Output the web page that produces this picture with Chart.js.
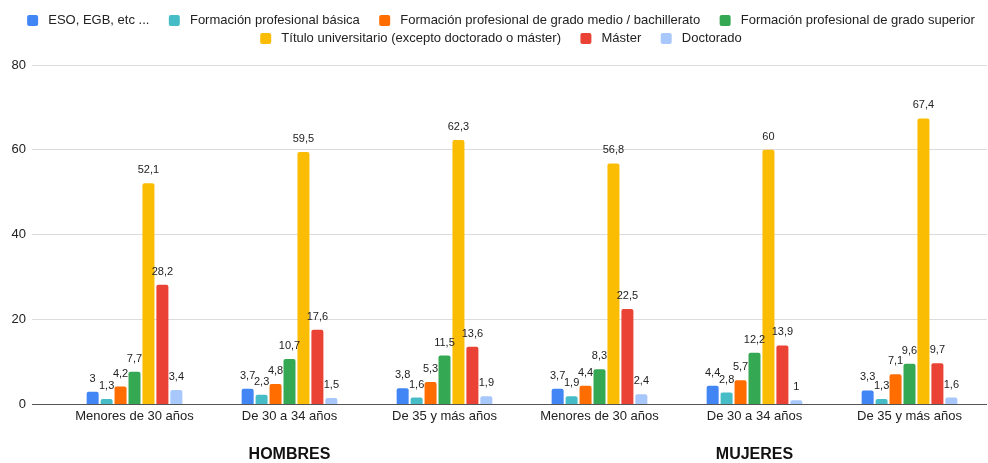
<!DOCTYPE html>
<html>
<head>
<meta charset="utf-8">
<script src="https://cdn.jsdelivr.net/npm/chart.js@4"></script>
<style>
  html, body { margin: 0; padding: 0; background: #fff; }
  #wrap { width: 988px; height: 463px; position: relative; }
</style>
</head>
<body>
<div id="wrap"><canvas id="chart"></canvas></div>
<script>
// categories and series
const categories = ['Menores de 30 años', 'De 30 a 34 años', 'De 35 y más años',
                    'Menores de 30 años', 'De 30 a 34 años', 'De 35 y más años'];
const groupLabels = ['HOMBRES', 'MUJERES'];
const groupCenterIndex = [1, 4];

const seriesNames = [
    'ESO, EGB, etc ...',
    'Formación profesional básica',
    'Formación profesional de grado medio / bachillerato',
    'Formación profesional de grado superior',
    'Título universitario (excepto doctorado o máster)',
    'Máster',
    'Doctorado'
];
const eso        = [3, 3.7, 3.8, 3.7, 4.4, 3.3];
const fpBasica   = [1.3, 2.3, 1.6, 1.9, 2.8, 1.3];
const fpMedio    = [4.2, 4.8, 5.3, 4.4, 5.7, 7.1];
const fpSuperior = [7.7, 10.7, 11.5, 8.3, 12.2, 9.6];
const titulo     = [52.1, 59.5, 62.3, 56.8, 60, 67.4];
const master     = [28.2, 17.6, 13.6, 22.5, 13.9, 9.7];
const doctorado  = [3.4, 1.5, 1.9, 2.4, 1, 1.6];

const yTicks = [0, 20, 40, 60, 80];

const colors = ['#4285f4', '#46bdc6', '#ff6d01', '#34a853', '#fbbc04', '#ea4335', '#a8c7fa'];
const allSeries = [eso, fpBasica, fpMedio, fpSuperior, titulo, master, doctorado];
// legend items that end a row (no trailing gap)
const rowEnds = [3, 6];

const FONT = '"Liberation Sans", Arial, Helvetica, sans-serif';

// value labels above each bar, comma decimals
const barLabels = {
    id: 'barLabels',
    afterDatasetsDraw(chart) {
        const ctx = chart.ctx;
        ctx.save();
        ctx.font = '11px ' + FONT;
        ctx.fillStyle = '#222';
        ctx.textAlign = 'center';
        ctx.textBaseline = 'alphabetic';
        chart.data.datasets.forEach((ds, i) => {
            const meta = chart.getDatasetMeta(i);
            meta.data.forEach((bar, j) => {
                const txt = String(ds.data[j]).replace('.', ',');
                ctx.fillText(txt, bar.x, bar.y - 10);
            });
        });
        ctx.restore();
    }
};

// HOMBRES / MUJERES under the axis
const groupTitles = {
    id: 'groupTitles',
    afterDraw(chart) {
        const ctx = chart.ctx;
        const x = chart.scales.x;
        ctx.save();
        ctx.font = 'bold 16px ' + FONT;
        ctx.fillStyle = '#111';
        ctx.textAlign = 'center';
        ctx.textBaseline = 'middle';
        groupLabels.forEach((g, k) => {
            ctx.fillText(g, x.getPixelForValue(groupCenterIndex[k]), 455);
        });
        ctx.restore();
    }
};

// extra room between legend and plot area, legend nudged a little right
const legendSpacer = {
    id: 'legendSpacer',
    beforeLayout(chart) {
        const lg = chart.legend;
        if (lg && !lg._spaced) {
            const fit = lg.fit.bind(lg);
            lg.fit = function () { fit(); this.height += 10; };
            lg._spaced = true;
        }
    },
    afterLayout(chart) {
        const lg = chart.legend;
        if (lg) {
            lg.left += 7.5;
            lg.right += 7.5;
        }
    }
};

const ctx = document.getElementById('chart').getContext('2d');
new Chart(ctx, {
    type: 'bar',
    data: {
        labels: categories,
        datasets: allSeries.map((d, i) => ({
            label: seriesNames[i],
            data: d,
            backgroundColor: colors[i],
            borderRadius: 2,
            borderSkipped: 'bottom',
            categoryPercentage: 0.63,
            barPercentage: 0.86
        }))
    },
    options: {
        responsive: true,
        maintainAspectRatio: false,
        animation: false,
        layout: { padding: { top: 9, right: 1, bottom: 35, left: 0 } },
        plugins: {
            legend: {
                position: 'top',
                labels: {
                    font: { family: FONT, size: 13 },
                    color: '#222',
                    boxWidth: 11,
                    boxHeight: 11,
                    padding: 5,
                    useBorderRadius: true,
                    borderRadius: 2,
                    generateLabels(chart) {
                        const items = Chart.defaults.plugins.legend.labels.generateLabels(chart);
                        items.forEach((it, i) => {
                            it.text = ' ' + it.text + (rowEnds.includes(i) ? '' : '    ');
                        });
                        return items;
                    }
                }
            },
            tooltip: { enabled: false }
        },
        scales: {
            x: {
                grid: { display: false, drawTicks: false },
                border: { display: false },
                ticks: {
                    font: { family: FONT, size: 13 },
                    color: '#222',
                    padding: 4,
                    maxRotation: 0
                }
            },
            y: {
                min: 0,
                max: 80,
                afterFit(scale) { scale.width = 57; },
                afterBuildTicks(scale) { scale.ticks = yTicks.map(v => ({ value: v })); },
                grid: {
                    color: c => c.tick && c.tick.value === 0 ? '#555' : '#dcdcdc',
                    lineWidth: 1,
                    drawTicks: true,
                    tickLength: 25
                },
                border: { display: false },
                ticks: {
                    font: { family: FONT, size: 13 },
                    color: '#222',
                    padding: 6
                }
            }
        }
    },
    plugins: [barLabels, groupTitles, legendSpacer]
});
</script>
</body>
</html>
